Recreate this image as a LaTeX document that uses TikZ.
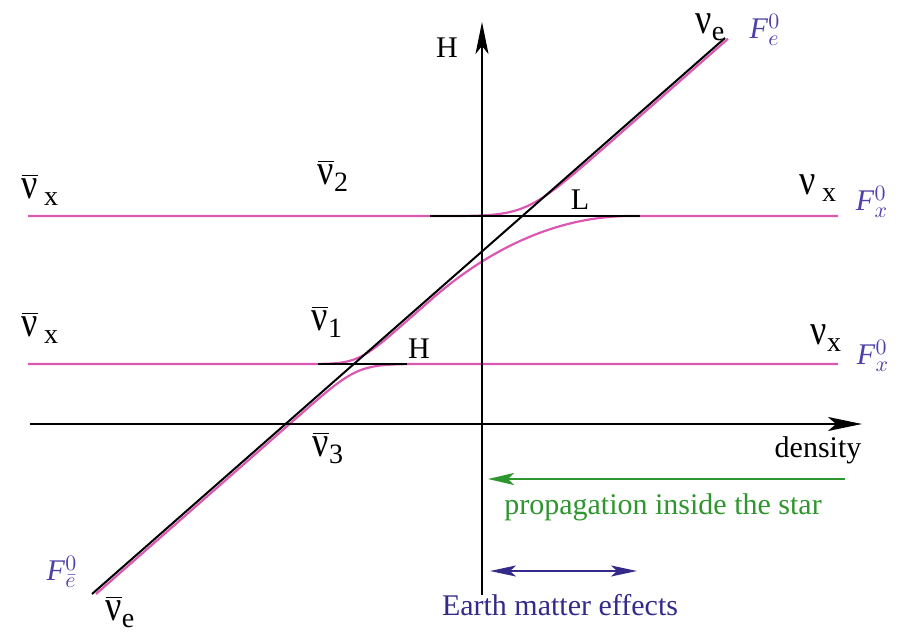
\documentclass[tikz,border=0pt]{standalone}
\usepackage{fontspec}
\setmainfont{Liberation Serif}
\usepackage{graphicx}
\usepackage{tikz}
\usetikzlibrary{arrows.meta}
\definecolor{levelpink}{RGB}{218,88,178}
\definecolor{fluxblue}{RGB}{78,66,168}
\definecolor{stargreen}{RGB}{46,150,46}
\definecolor{earthblue}{RGB}{52,42,138}
\newcommand{\nuglyph}{\scalebox{1}[1.2]{ν}}
\newcommand{\nubar}{\ensuremath{\overline{\mbox{\nuglyph}}}}
\newcommand{\nusub}[1]{\raisebox{-0.45ex}{\fontsize{14}{16}\selectfont #1}}

\begin{document}
\begin{tikzpicture}[x=0.5pt, y=-0.5pt, every node/.style={font=\fontsize{15}{18}\selectfont, inner sep=0pt},
  level/.style={levelpink, line width=1.1pt}, axis/.style={black, line width=1pt},
  nulabel/.style={font=\fontsize{18}{20}\selectfont}, flux/.style={fluxblue, font=\fontsize{15}{18}\selectfont}]
  \useasboundingbox (0,0) rectangle (904,636);

  % energy levels in matter (pink)
  \draw[level] (96,594) -- (298,416.6) .. controls (358,364) .. (430,364) -- (838,364);
  \draw[level] (28,364) -- (303,364) .. controls (358,364) .. (413,315.5) -- (431,299.7)
    .. controls (471,264.6) and (541,216) .. (631,216) -- (838,216);
  \draw[level] (28,216) -- (441,216) .. controls (526,216) .. (611,141.6) -- (728,38.8);

  % levels in vacuum (black)
  \draw[axis] (92,594) -- (725,38);
  \draw[axis] (318,364) -- (407,364);
  \draw[axis] (430,216) -- (640,216);

  % axes
  \coordinate (ybot) at (482,595);
  \coordinate (ytop) at (482,22);
  \coordinate (xleft) at (30,424);
  \coordinate (xright) at (862,424);
  \draw[axis, -{Stealth[length=16pt, width=6.5pt, inset=4pt]}] (ybot) -- (ytop);
  \draw[axis, -{Stealth[length=17pt, width=7pt, inset=4pt]}] (xleft) -- (xright);

  \coordinate (starin) at (845,479);
  \coordinate (starout) at (488,479);
  \draw[stargreen, line width=1pt, -{Stealth[length=13pt, width=6pt, inset=3pt]}] (starin) -- (starout);
  \coordinate (earthin) at (490,571);
  \coordinate (earthout) at (637,571);
  \draw[earthblue, line width=1pt, {Stealth[length=13pt, width=5.5pt, inset=3pt]}-{Stealth[length=13pt, width=5.5pt, inset=3pt]}] (earthin) -- (earthout);

  % labels
  \node (hlabel) at (447,48) {H};
  \node[nulabel] (nuetop) at (710,27) {\nuglyph\nusub{e}};
  \node[flux] (fe) at (765,30) {\textit{F}$^{0}_{e}$};
  \node[nulabel] (nuxra) at (818,188) {\nuglyph\,\nusub{x}};
  \node[flux] (fxa) at (872,202) {\textit{F}$^{0}_{x}$};
  \node[nulabel] (nuxrb) at (826,338) {\nuglyph\nusub{x}};
  \node[flux] (fxb) at (873,356) {\textit{F}$^{0}_{x}$};
  \node[nulabel] (nuxla) at (40,190) {\nubar\,\nusub{x}};
  \node[nulabel] (nuxlb) at (40,328) {\nubar\,\nusub{x}};
  \node[nulabel] (nutwo) at (333,176) {\nubar\nusub{2}};
  \node[nulabel] (nuone) at (327,322) {\nubar\nusub{1}};
  \node[nulabel] (nuthree) at (328,448) {\nubar\nusub{3}};
  \node[nulabel] (nuebot) at (120,612) {\nubar\nusub{e}};
  \node[flux] (febar) at (62,572) {\textit{F}$^{0}_{\bar e}$};
  \node (lmark) at (580,200) {L};
  \node (hmark) at (419,349) {H};
  \node (dens) at (818,450) {density};
  \node[stargreen] (startext) at (663,507) {propagation inside the star};
  \node[earthblue] (earthtext) at (560,605) {Earth matter effects};
\end{tikzpicture}
\end{document}
